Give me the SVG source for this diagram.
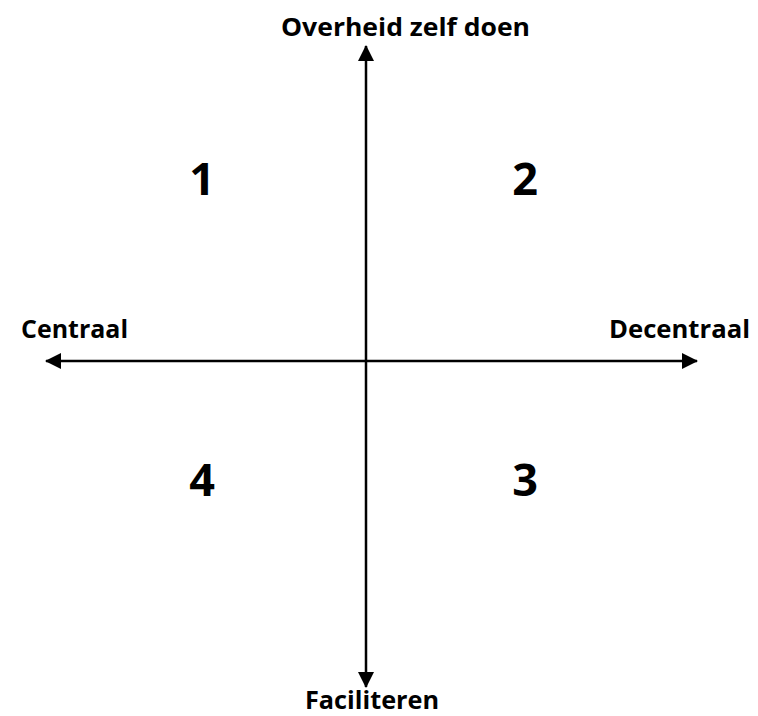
<svg xmlns="http://www.w3.org/2000/svg" width="758" height="716" viewBox="0 0 758 716">
<style>
.lbl{font-family:"Open Sans",Lato,"Liberation Sans",sans-serif;font-weight:bold;font-size:25px;fill:#000}
.num{font-family:"Open Sans",Lato,"Liberation Sans",sans-serif;font-weight:bold;font-size:45px;fill:#000;text-anchor:middle}
.ax{stroke:#000;stroke-width:2.5;fill:none}
</style>
<defs>
<marker id="ah" markerUnits="userSpaceOnUse" markerWidth="16" markerHeight="16" refX="15" refY="8" orient="auto">
<path d="M0,0 L16,8 L0,16 Z" fill="#000"/>
</marker>
</defs>
<rect width="758" height="716" fill="#fff"/>
<g id="connectors">
<line class="ax" x1="366" y1="362" x2="366" y2="46" marker-end="url(#ah)"/>
<line class="ax" x1="366" y1="362" x2="366" y2="687" marker-end="url(#ah)"/>
<line class="ax" x1="366" y1="361" x2="46" y2="361" marker-end="url(#ah)"/>
<line class="ax" x1="366" y1="361" x2="697" y2="361" marker-end="url(#ah)"/>
</g>
<g id="top"><text class="lbl" x="281" y="36" textLength="249" lengthAdjust="spacingAndGlyphs">Overheid zelf doen</text></g>
<g id="left"><text class="lbl" x="21" y="338" textLength="107" lengthAdjust="spacingAndGlyphs">Centraal</text></g>
<g id="right"><text class="lbl" x="609" y="338" textLength="141" lengthAdjust="spacingAndGlyphs">Decentraal</text></g>
<g id="bottom"><text class="lbl" x="305" y="709" textLength="134" lengthAdjust="spacingAndGlyphs">Faciliteren</text></g>
<g id="q1"><text class="num" x="202" y="195">1</text></g>
<g id="q2"><text class="num" x="525" y="195">2</text></g>
<g id="q3"><text class="num" x="525" y="496">3</text></g>
<g id="q4"><text class="num" x="202" y="496">4</text></g>
</svg>
